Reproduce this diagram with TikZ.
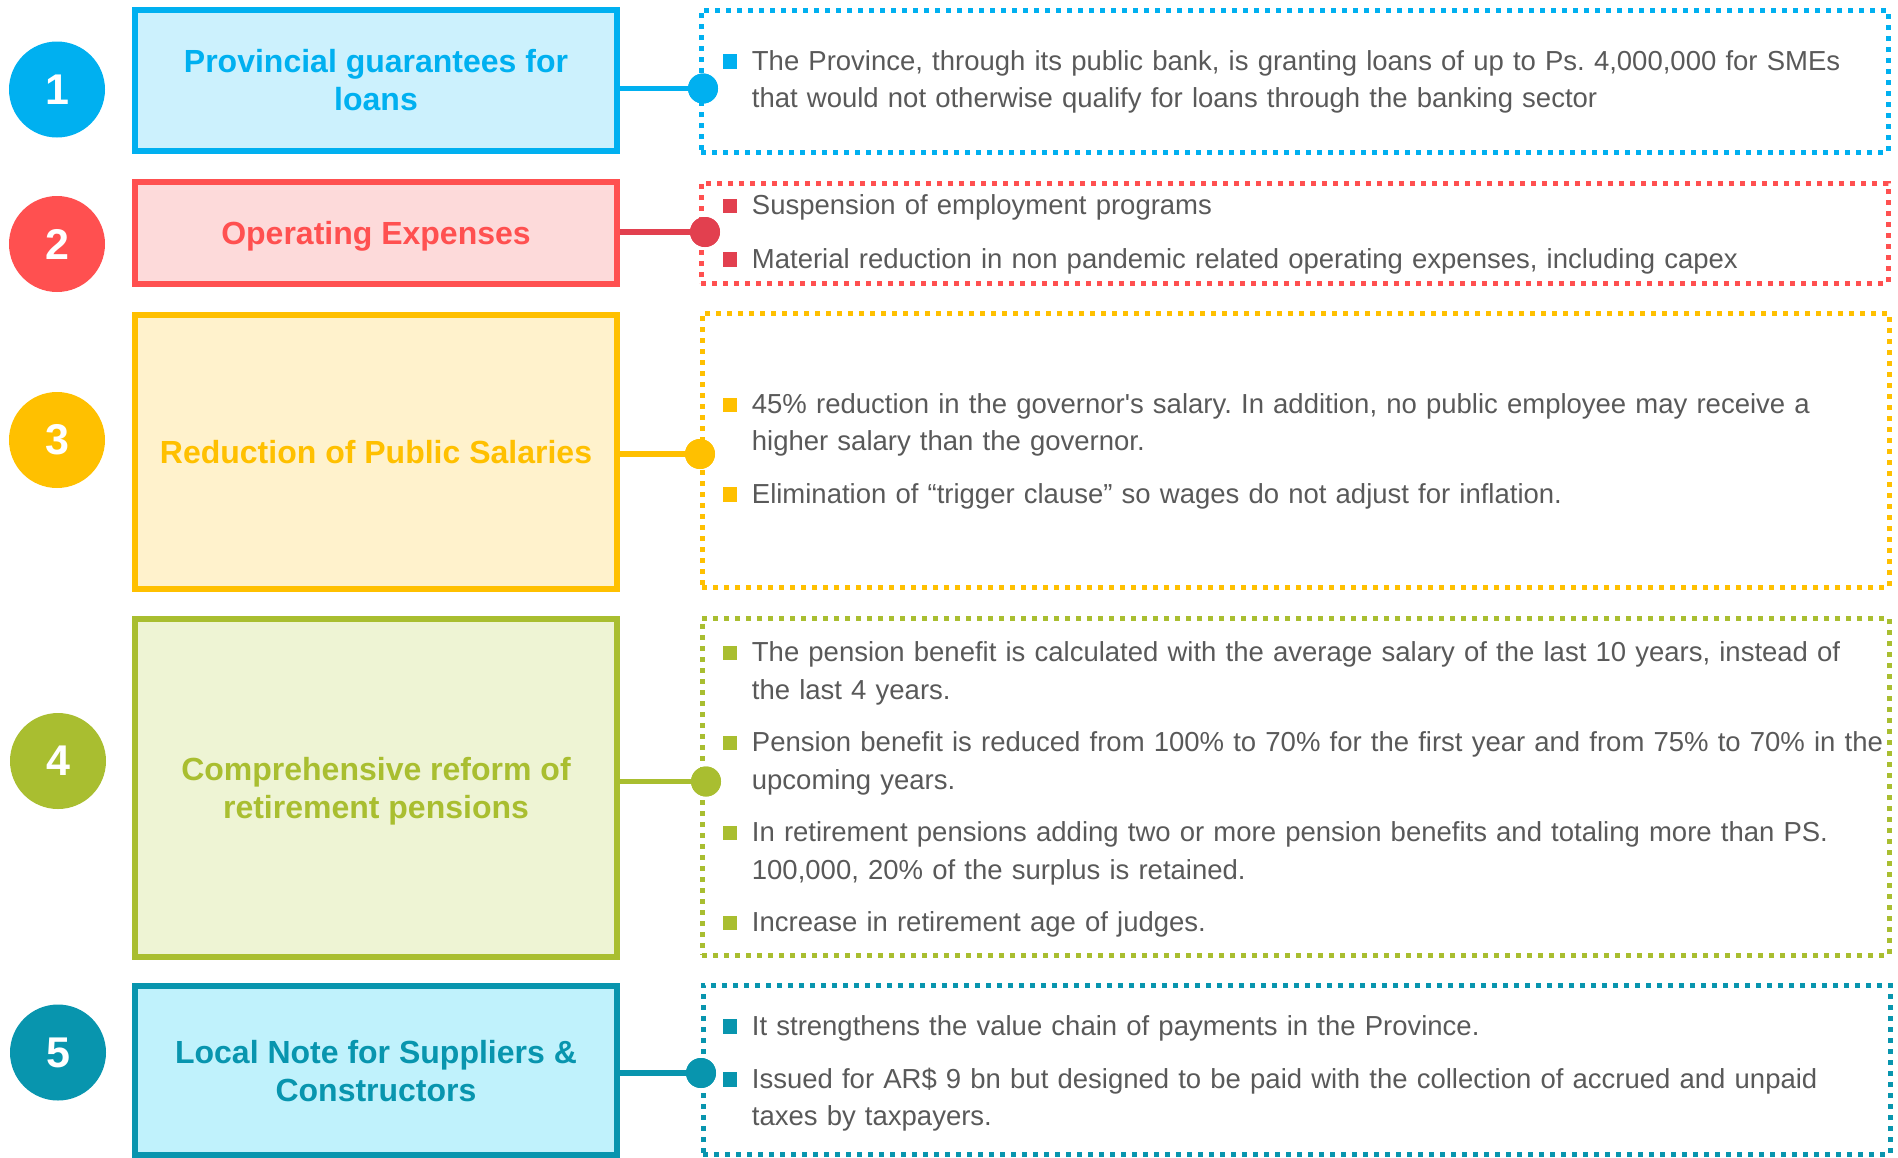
\documentclass[tikz,border=0pt]{standalone}
\usepackage{fontspec}
\setmainfont{Liberation Sans}
\usetikzlibrary{calc}

\definecolor{cBlue}{HTML}{00B0F0}
\definecolor{fBlue}{HTML}{CCF1FD}
\definecolor{cRed}{HTML}{FF5050}
\definecolor{dRed}{HTML}{E2404F}
\definecolor{fRed}{HTML}{FDDADA}
\definecolor{cGold}{HTML}{FFC000}
\definecolor{fGold}{HTML}{FFF2CC}
\definecolor{cGreen}{HTML}{A9BE30}
\definecolor{fGreen}{HTML}{EEF4D4}
\definecolor{cTeal}{HTML}{0895AE}
\definecolor{fTeal}{HTML}{C0F2FC}
\definecolor{bodygray}{HTML}{595959}

% square bullet followed by a hanging-indented item
\newcommand\sqbullet[1]{\makebox[29pt][l]{\rule{0pt}{25pt}\raisebox{1.5pt}{\color{#1}\rule{14.5pt}{14.5pt}}}}
\newcommand\pointitem[2]{\hangindent=29pt\hangafter=1\noindent\sqbullet{#1}#2\par}

\tikzset{
  numdisc/.style={circle, fill=#1, minimum size=96pt, inner sep=0pt, text=white,
    font=\fontsize{43pt}{43pt}\selectfont\bfseries},
  topicbox/.style 2 args={rectangle, draw=#1, fill=#2, line width=6pt, inner sep=0pt},
  detailbox/.style={rectangle, draw=#1, line width=5pt, dash pattern=on 5pt off 6pt, inner sep=0pt},
  joint/.style={circle, fill=#1, minimum size=30pt, inner sep=0pt},
  link/.style={draw=#1, line width=5.5pt},
  titletext/.style={text=#1, anchor=base, inner sep=0pt,
    font=\fontsize{32pt}{38pt}\selectfont\bfseries},
  points/.style={anchor=north west, inner sep=0pt, text width=1300pt, align=left,
    text=bodygray, font=\fontsize{27.5pt}{37.3pt}\selectfont\frenchspacing},
}

\begin{document}
\begin{tikzpicture}[x=1pt, y=-1pt]
\useasboundingbox (0,0) rectangle (1898,1157);

% numbered discs
\node[numdisc=cBlue]  (n1) at (57,89.5)  {1};
\node[numdisc=cRed]   (n2) at (57,244)   {2};
\node[numdisc=cGold]  (n3) at (57,440)   {3};
\node[numdisc=cGreen] (n4) at (58,761)   {4};
\node[numdisc=cTeal]  (n5) at (58,1052.5){5};

% topic boxes
\node[topicbox={cBlue}{fBlue},   minimum width=482pt, minimum height=141pt]   (t1) at (376,80.5)   {};
\node[topicbox={cRed}{fRed},     minimum width=482pt, minimum height=102pt]   (t2) at (376,233)    {};
\node[topicbox={cGold}{fGold},   minimum width=482pt, minimum height=274.5pt] (t3) at (376,451.75) {};
\node[topicbox={cGreen}{fGreen}, minimum width=482pt, minimum height=338pt]   (t4) at (376,788)    {};
\node[topicbox={cTeal}{fTeal},   minimum width=482pt, minimum height=169pt]   (t5) at (376,1070.5) {};

% topic titles
\node[titletext=cBlue]  (t1a) at (376,72.7)   {Provincial guarantees for};
\node[titletext=cBlue]  (t1b) at (376,110.7)  {loans};
\node[titletext=cRed]   (t2a) at (376,244.3)  {Operating Expenses};
\node[titletext=cGold]  (t3a) at (376,463.3)  {Reduction of Public Salaries};
\node[titletext=cGreen] (t4a) at (376,780)    {Comprehensive reform of};
\node[titletext=cGreen] (t4b) at (376,818.3)  {retirement pensions};
\node[titletext=cTeal]  (t5a) at (376,1063.3) {Local Note for Suppliers \&};
\node[titletext=cTeal]  (t5b) at (376,1101.7) {Constructors};

% dotted detail frames
\node[detailbox=cBlue,  minimum width=1187pt, minimum height=142pt] (p1) at (1294.5,81)     {};
\node[detailbox=cRed,   minimum width=1187pt, minimum height=100pt] (p2) at (1294.5,233)    {};
\node[detailbox=cGold,  minimum width=1187pt, minimum height=274pt] (p3) at (1295.5,450)    {};
\node[detailbox=cGreen, minimum width=1187pt, minimum height=337pt] (p4) at (1295.5,786.5)  {};
\node[detailbox=cTeal,  minimum width=1187pt, minimum height=169pt] (p5) at (1296.5,1069.5) {};

% junction dots
\node[joint=cBlue]  (j1) at (703,88.5)  {};
\node[joint=dRed]   (j2) at (705,232)   {};
\node[joint=cGold]  (j3) at (700,454)   {};
\node[joint=cGreen] (j4) at (706,781.5) {};
\node[joint=cTeal]  (j5) at (701,1073)  {};

% connectors
\draw[link=cBlue]  (t1.east |- j1) -- (j1.center);
\draw[link=dRed]   (t2.east |- j2) -- (j2.center);
\draw[link=cGold]  (t3.east |- j3) -- (j3.center);
\draw[link=cGreen] (t4.east |- j4) -- (j4.center);
\draw[link=cTeal]  (t5.east |- j5) -- (j5.center);
\node[joint=cBlue]  at (j1) {};
\node[joint=dRed]   at (j2) {};
\node[joint=cGold]  at (j3) {};
\node[joint=cGreen] at (j4) {};
\node[joint=cTeal]  at (j5) {};

% bullet texts
\node[points] (b1) at (722.7,45) {\setlength\parskip{0pt}%
  \pointitem{cBlue}{The Province, through its public bank, is granting loans of up to Ps. 4,000,000 for SMEs\newline that would not otherwise qualify for loans through the banking sector}};

\node[points] (b2) at (722.7,189.3) {\setlength\parskip{16.2pt}%
  \pointitem{dRed}{Suspension of employment programs}%
  \pointitem{dRed}{Material reduction in non pandemic related operating expenses, including capex}};

\node[points] (b3) at (722.7,388.3) {\setlength\parskip{15.2pt}%
  \pointitem{cGold}{45\% reduction in the governor\textquotesingle s salary. In addition, no public employee may receive a\newline higher salary than the governor.}%
  \pointitem{cGold}{Elimination of “trigger clause” so wages do not adjust for inflation.}};

\node[points] (b4) at (722.7,636.7) {\setlength\parskip{15.4pt}%
  \pointitem{cGreen}{The pension benefit is calculated with the average salary of the last 10 years, instead of\newline the last 4 years.}%
  \pointitem{cGreen}{Pension benefit is reduced from 100\% to 70\% for the first year and from 75\% to 70\% in the\newline upcoming years.}%
  \pointitem{cGreen}{In retirement pensions adding two or more pension benefits and totaling more than PS.\newline 100,000, 20\% of the surplus is retained.}%
  \pointitem{cGreen}{Increase in retirement age of judges.}};

\node[points] (b5) at (722.7,1010) {\setlength\parskip{15.5pt}%
  \pointitem{cTeal}{It strengthens the value chain of payments in the Province.}%
  \pointitem{cTeal}{Issued for AR\$ 9 bn but designed to be paid with the collection of accrued and unpaid\newline taxes by taxpayers.}};

\end{tikzpicture}
\end{document}
